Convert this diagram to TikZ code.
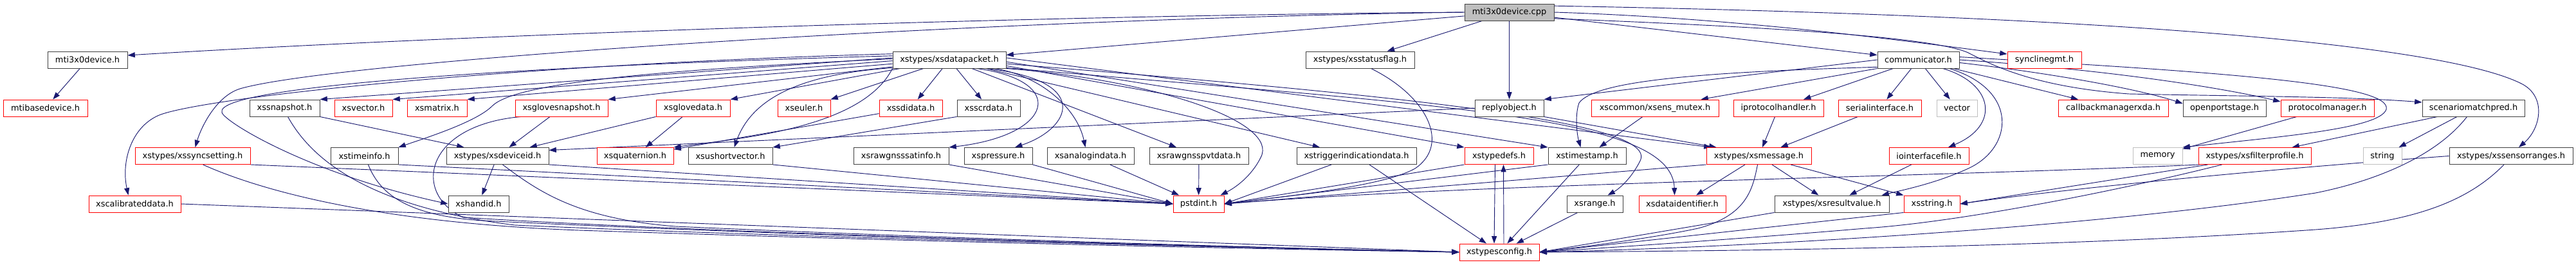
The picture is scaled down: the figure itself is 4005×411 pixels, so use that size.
\documentclass[tikz,border=0pt]{standalone}
\usepackage{fontspec}
\setmainfont{DejaVu Sans}
\usetikzlibrary{arrows.meta,calc}
\pgfdeclarelayer{bg}
\pgfsetlayers{bg,main}
\definecolor{edgecol}{HTML}{191970}
\definecolor{blkcol}{HTML}{404040}
\definecolor{redcol}{HTML}{FF0000}
\definecolor{graycol}{HTML}{BFBFBF}
\definecolor{rootfill}{HTML}{BFBFBF}
\newcommand\mynode[6]{\pgfmathsetmacro\nw{(#3-#2)*0.75}\node[#5, minimum width=\nw pt] (#1) at ({(#2+#3)/2},#4) {#6};}
\begin{document}
\begin{tikzpicture}[x=0.75pt,y=-0.75pt,
 nbase/.style={draw, line width=0.7pt, rectangle, inner sep=0pt, minimum height=19.5pt, font=\fontsize{9.7}{11}\selectfont, fill=white},
 blk/.style={nbase, draw=blkcol},
 redb/.style={nbase, draw=redcol},
 grayb/.style={nbase, draw=graycol},
 rootbox/.style={nbase, draw=blkcol, fill=rootfill},
 edg/.style={draw=edgecol, line width=0.7pt, -{Triangle[length=8.5pt,width=6pt]}}]
\useasboundingbox (0,0) rectangle (4005,411);
% row 0
\mynode{root}{2277}{2416}{19}{rootbox}{mti3x0device.cpp}
% row 1
\mynode{mdh}{74}{198}{93}{blk}{mti3x0device.h}
\mynode{dp}{1388}{1564}{93}{blk}{xstypes/xsdatapacket.h}
\mynode{sf}{2030}{2199}{93}{blk}{xstypes/xsstatusflag.h}
\mynode{com}{2919}{3046}{93}{blk}{communicator.h}
\mynode{sync}{3121}{3236}{93}{redb}{synclinegmt.h}
% row 2
\mynode{mbd}{5}{136}{168}{redb}{mtibasedevice.h}
\mynode{snap}{388}{497}{168}{blk}{xssnapshot.h}
\mynode{vec}{520}{610}{168}{redb}{xsvector.h}
\mynode{mat}{633}{726}{168}{redb}{xsmatrix.h}
\mynode{gsnap}{801}{945}{168}{redb}{xsglovesnapshot.h}
\mynode{gdata}{1020}{1135}{168}{redb}{xsglovedata.h}
\mynode{eul}{1209}{1291}{168}{redb}{xseuler.h}
\mynode{sdi}{1367}{1465}{168}{redb}{xssdidata.h}
\mynode{scr}{1488}{1586}{168}{blk}{xsscrdata.h}
\mynode{reply}{2293}{2400}{168}{blk}{replyobject.h}
\mynode{mutex}{2474}{2672}{168}{redb}{xscommon/xsens\_mutex.h}
\mynode{iph}{2695}{2835}{168}{redb}{iprotocolhandler.h}
\mynode{ser}{2858}{2987}{168}{redb}{serialinterface.h}
\mynode{nvector}{3011}{3074}{168}{grayb}{vector}
\mynode{cbm}{3200}{3371}{168}{redb}{callbackmanagerxda.h}
\mynode{ops}{3394}{3523}{168}{blk}{openportstage.h}
\mynode{pm}{3546}{3691}{168}{redb}{protocolmanager.h}
\mynode{smp}{3766}{3925}{168}{blk}{scenariomatchpred.h}
% row 3
\mynode{ssync}{210}{389}{242.5}{redb}{xstypes/xssyncsetting.h}
\mynode{tinfo}{514}{619}{242.5}{blk}{xstimeinfo.h}
\mynode{devid}{694}{853}{242.5}{blk}{xstypes/xsdeviceid.h}
\mynode{quat}{928}{1047}{242.5}{redb}{xsquaternion.h}
\mynode{usv}{1070}{1201}{242.5}{blk}{xsushortvector.h}
\mynode{gsat}{1327}{1475}{242.5}{blk}{xsrawgnsssatinfo.h}
\mynode{press}{1499}{1605}{242.5}{blk}{xspressure.h}
\mynode{analog}{1628}{1763}{242.5}{blk}{xsanalogindata.h}
\mynode{pvt}{1787}{1941}{242.5}{blk}{xsrawgnsspvtdata.h}
\mynode{trig}{2016}{2202}{242.5}{blk}{xstriggerindicationdata.h}
\mynode{tdef}{2277}{2384}{242.5}{redb}{xstypedefs.h}
\mynode{tstamp}{2407}{2528}{242.5}{blk}{xstimestamp.h}
\mynode{msg}{2653}{2816}{242.5}{redb}{xstypes/xsmessage.h}
\mynode{iof}{2937}{3061}{242.5}{redb}{iointerfacefile.h}
\mynode{nmemory}{3316}{3393}{242.5}{grayb}{memory}
\mynode{fprof}{3418}{3593}{242.5}{redb}{xstypes/xsfilterprofile.h}
\mynode{nstring}{3674}{3734}{242.5}{grayb}{string}
\mynode{sranges}{3808}{4000}{242.5}{blk}{xstypes/xssensorranges.h}
% row 4
\mynode{calib}{138}{281}{317}{redb}{xscalibrateddata.h}
\mynode{hand}{697}{791}{317}{blk}{xshandid.h}
\mynode{pstd}{1824}{1903}{317}{redb}{pstdint.h}
\mynode{range}{2436}{2523}{317}{blk}{xsrange.h}
\mynode{dident}{2548}{2683}{317}{redb}{xsdataidentifier.h}
\mynode{rv}{2759}{2937}{317}{blk}{xstypes/xsresultvalue.h}
\mynode{str}{2960}{3047}{317}{redb}{xsstring.h}
% row 5
\mynode{cfg}{2269}{2393}{392}{redb}{xstypesconfig.h}

\begin{pgfonlayer}{bg}
\fill[white] (0,0) rectangle (4005,411);
% root
\draw[edg] (root.west) .. controls (1600,24) and (700,55) .. ($(mdh.east)+(0,-7)$);
\draw[edg] (root) -- (dp);
\draw[edg] (root.west) .. controls (1500,30) and (520,95) .. (373,138) .. controls (335,150) and (312,200) .. ($(ssync.north)+(4,0)$);
\draw[edg] (root) -- (sf);
\draw[edg] (root) -- (reply);
\draw[edg] (root) -- (com);
\draw[edg] (root.east) .. controls (2700,28) and (2950,62) .. ($(sync.west)+(0,-9)$);
\draw[edg] (root.-8) .. controls (2700,40) and (3000,55) .. (3060,82) .. controls (3095,100) and (3160,135) .. (3310,146) .. controls (3500,150) and (3650,150) .. ($(smp.west)+(0,-9)$);
\draw[edg] (root.8) .. controls (3300,25) and (3800,70) .. (3920,130) .. controls (3960,150) and (3950,200) .. ($(sranges.north)+(12,0)$);
% mti3x0device.h
\draw[edg] (mdh) -- (mbd);
% xsdatapacket
\draw[edg] (dp.178) -- (snap.north east);
\draw[edg] (dp.181) -- (vec.north east);
\draw[edg] (dp.184) -- (mat.north east);
\draw[edg] (dp.187) -- (gsnap.north east);
\draw[edg] (dp.190) -- (gdata.north east);
\draw[edg] (dp) -- (eul.north east);
\draw[edg] (dp) -- (sdi);
\draw[edg] (dp) -- (scr);
\draw[edg] ($(dp.south)+(42,0)$) .. controls (1660,125) and (1640,210) .. (gsat.north east);
\draw[edg] ($(dp.south)+(57,0)$) .. controls (1700,125) and (1665,200) .. ($(press.north)+(26,0)$);
\draw[edg] ($(dp.south)+(70,0)$) .. controls (1620,118) and (1675,170) .. ($(analog.north)+(-8,0)$);
\draw[edg] (dp) -- (pvt);
\draw[edg] (dp.south east) .. controls (1800,125) and (1990,190) .. (1960,245) .. controls (1945,275) and (1920,292) .. ($(pstd.north east)+(-6,0)$);
\draw[edg] (dp) -- (trig);
\draw[edg] (dp.-6) -- (tdef.north west);
\draw[edg] (dp.-2) -- (tstamp.north west);
\draw[edg] (dp.2) -- ($(msg.north west)+(8,0)$);
\draw[edg] (dp.-4) .. controls (2200,150) and (2580,190) .. (2550,250) .. controls (2535,280) and (2515,295) .. ($(range.north)+(20,0)$);
\draw[edg] (dp.-8) .. controls (2250,165) and (2600,180) .. ($(dident.north)+(-12,0)$);
\draw[edg] (dp.176) .. controls (900,100) and (330,130) .. (345,175) .. controls (350,190) and (480,270) .. (hand.west);
\draw[edg] (dp.174) .. controls (800,100) and (330,150) .. (250,178) .. controls (205,195) and (188,250) .. ($(calib.north)+(-10,0)$);
\draw[edg] (dp.179) .. controls (1000,110) and (800,130) .. (765,165) .. controls (740,190) and (660,215) .. (tinfo.north east);
\draw[edg] (dp.south west) .. controls (1340,200) and (1150,215) .. (quat.north east);
\draw[edg] (dp.188) .. controls (1250,115) and (1170,150) .. ($(usv.north)+(6,0)$);
% sdi, scr
\draw[edg] (sdi) -- (quat);
\draw[edg] (scr.south west) -- (usv.north east);
% replyobject
\draw[edg] (reply.west) -- ($(devid.east)+(0,-9)$);
\draw[edg] (reply.south east) -- ($(msg.north west)+(16,0)$);
% communicator
\draw[edg] (com.west) -- (reply.north east);
\draw[edg] (com.190) .. controls (2650,112) and (2480,125) .. (2455,160) .. controls (2448,180) and (2452,210) .. ($(tstamp.north)+(-10,0)$);
\draw[edg] (com.south west) -- ($(mutex.north east)+(-28,0)$);
\draw[edg] (com) -- (iph);
\draw[edg] (com) -- (ser);
\draw[edg] (com) -- (nvector);
\draw[edg] (com) -- (cbm);
\draw[edg] (com.-4) .. controls (3200,115) and (3330,140) .. ($(ops.west)+(0,-7)$);
\draw[edg] (com.0) .. controls (3300,110) and (3470,140) .. ($(pm.west)+(0,-10)$);
\draw[edg] (com.4) .. controls (3450,112) and (3720,130) .. (3710,170) .. controls (3700,200) and (3550,212) .. (nmemory.north east);
\draw[edg] ($(com.south)+(38,0)$) .. controls (3100,130) and (3110,195) .. ($(iof.north)+(30,0)$);
\draw[edg] ($(com.south)+(48,0)$) .. controls (3140,140) and (3130,230) .. (3060,262) .. controls (3010,285) and (2960,295) .. ($(rv.north east)+(-12,0)$);
% mutex, iph, ser, pm
\draw[edg] (mutex) -- (tstamp);
\draw[edg] (iph) -- (msg);
\draw[edg] (ser) -- (msg);
\draw[edg] (pm) -- (nmemory);
% scenariomatchpred
\draw[edg] ($(smp.south west)+(24,0)$) -- ($(fprof.north east)+(-30,0)$);
\draw[edg] (smp) -- (nstring);
\draw[edg] ($(smp.south)+(-10,0)$) .. controls (3790,240) and (3700,280) .. (3600,300) .. controls (3250,355) and (2700,385) .. (cfg.east);
% sensorranges
\draw[edg] ($(sranges.south)+(-11,0)$) .. controls (3840,310) and (3760,345) .. (3600,357) .. controls (3200,385) and (2700,390) .. (cfg.east);
\draw[edg] (sranges.west) .. controls (3500,265) and (3200,295) .. (str.east);
% filterprofile
\draw[edg] ($(fprof.south west)+(15,0)$) -- (str.east);
\draw[edg] ($(fprof.south west)+(37,0)$) .. controls (3300,295) and (3050,345) .. (2900,355) .. controls (2700,372) and (2500,385) .. (cfg.east);
\draw[edg] ($(fprof.south west)+(2,0)$) .. controls (3000,275) and (2300,285) .. (pstd.east);
% statusflag
\draw[edg] ($(sf.south)+(17,0)$) .. controls (2220,150) and (2255,225) .. (2200,262) .. controls (2150,290) and (2000,305) .. (pstd.east);
% trigger
\draw[edg] ($(trig.south)+(-39,0)$) -- (pstd.east);
\draw[edg] (trig) -- (cfg);
% typedefs
\draw[edg] ($(tdef.south)+(-6,0)$) -- ($(cfg.north)+(-8,0)$);
\draw[edg] ($(cfg.north)+(7,0)$) -- ($(tdef.south)+(7,0)$);
\draw[edg] (tdef.south west) -- (pstd.east);
% timestamp
\draw[edg] (tstamp) -- (cfg);
\draw[edg] (tstamp.south west) -- (pstd.east);
% range
\draw[edg] (range) -- (cfg);
% message
\draw[edg] (msg) -- (dident);
\draw[edg] (msg) -- (rv);
\draw[edg] (msg) -- (str.north west);
\draw[edg] ($(msg.south)+(-2,0)$) .. controls (2725,295) and (2715,335) .. (2640,355) .. controls (2560,372) and (2450,385) .. (cfg.east);
\draw[edg] (msg.south west) -- (pstd.east);
% resultvalue, string, iointerfacefile
\draw[edg] (rv.south west) -- (cfg.east);
\draw[edg] (str.south west) -- (cfg.east);
\draw[edg] (iof) -- (rv);
% left cluster
\draw[edg] (ssync.south east) -- (pstd.west);
\draw[edg] ($(ssync.south)+(16,0)$) .. controls (380,285) and (550,345) .. (900,358) .. controls (1500,378) and (2000,388) .. (cfg.west);
\draw[edg] (calib.east) -- (cfg.west);
\draw[edg] (snap.south east) -- ($(devid.north west)+(28,0)$);
\draw[edg] ($(snap.south)+(5,0)$) .. controls (480,240) and (560,320) .. (800,350) .. controls (1300,372) and (2000,386) .. (cfg.west);
\draw[edg] (tinfo.south east) -- (pstd.west);
\draw[edg] ($(tinfo.south)+(6,0)$) .. controls (590,300) and (630,335) .. (750,343) .. controls (1300,370) and (2000,386) .. (cfg.west);
\draw[edg] (gsnap) -- (devid);
\draw[edg] ($(gsnap.south west)+(9,0)$) .. controls (660,195) and (640,300) .. (720,338) .. controls (1100,362) and (1900,385) .. (cfg.west);
\draw[edg] (gdata.south west) -- ($(devid.north)+(50,0)$);
\draw[edg] (gdata) -- (quat);
\draw[edg] (devid) -- (hand);
\draw[edg] (devid.south east) -- (pstd.west);
\draw[edg] ($(devid.south)+(8,0)$) .. controls (840,300) and (900,340) .. (1050,352) .. controls (1500,372) and (2000,386) .. (cfg.west);
\draw[edg] (usv.south east) -- (pstd.west);
\draw[edg] (gsat.south east) -- (pstd.west);
\draw[edg] (press.south east) -- (pstd.west);
\draw[edg] (analog) -- (pstd);
\draw[edg] (pvt) -- (pstd);
\end{pgfonlayer}
\end{tikzpicture}
\end{document}
